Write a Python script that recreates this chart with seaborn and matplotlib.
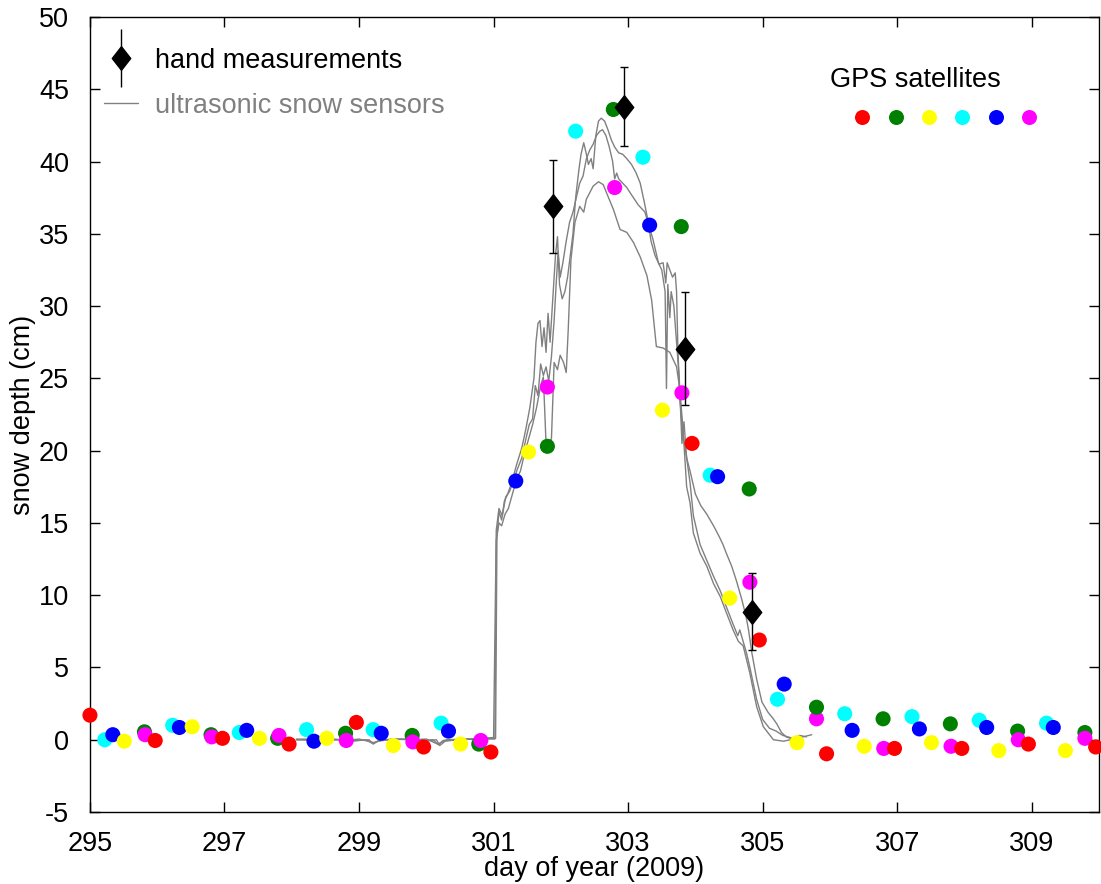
import numpy as np
import pandas as pd
import matplotlib
matplotlib.use("Agg")
import matplotlib.pyplot as plt
import seaborn as sns
from matplotlib.lines import Line2D
from matplotlib.collections import LineCollection
from matplotlib.container import ErrorbarContainer
from matplotlib.legend_handler import HandlerErrorbar
from matplotlib.path import Path

# ---------------- data ----------------
# GPS satellite retrievals (day of year, snow depth cm)
red_day = [295.0, 295.97, 296.97, 297.96, 298.96, 299.96, 300.96, 303.95, 304.95, 305.95, 306.96, 307.96, 308.95, 309.95]
red_val = [1.7, -0.05, 0.1, -0.3, 1.2, -0.5, -0.85, 20.5, 6.9, -0.97, -0.6, -0.6, -0.3, -0.5]
green_day = [295.81, 296.80, 297.79, 298.80, 299.79, 300.78, 301.80, 302.78, 303.79, 304.80, 305.80, 306.79, 307.79, 308.79, 309.79]
green_val = [0.55, 0.35, 0.1, 0.45, 0.3, -0.3, 20.3, 43.6, 35.5, 17.35, 2.25, 1.45, 1.1, 0.6, 0.5]
yellow_day = [295.51, 296.52, 297.52, 298.52, 299.51, 300.51, 301.52, 303.51, 304.51, 305.51, 306.51, 307.51, 308.51, 309.50]
yellow_val = [-0.1, 0.9, 0.1, 0.1, -0.4, -0.3, 19.9, 22.8, 9.8, -0.2, -0.45, -0.2, -0.75, -0.75]
cyan_day = [295.22, 296.23, 297.22, 298.22, 299.21, 300.22, 302.22, 303.22, 304.22, 305.22, 306.22, 307.22, 308.22, 309.22]
cyan_val = [0.0, 1.0, 0.5, 0.7, 0.7, 1.15, 42.1, 40.3, 18.3, 2.8, 1.8, 1.6, 1.35, 1.15]
blue_day = [295.34, 296.33, 297.33, 298.33, 299.33, 300.33, 301.33, 303.32, 304.33, 305.32, 306.33, 307.33, 308.33, 309.32]
blue_val = [0.35, 0.85, 0.65, -0.1, 0.45, 0.6, 17.9, 35.6, 18.2, 3.85, 0.65, 0.75, 0.85, 0.85]
magenta_day = [295.82, 296.81, 297.81, 298.81, 299.80, 300.81, 301.80, 302.80, 303.80, 304.81, 305.80, 306.80, 307.80, 308.80, 309.79]
magenta_val = [0.35, 0.2, 0.3, -0.05, -0.15, -0.05, 24.4, 38.2, 24.0, 10.9, 1.45, -0.6, -0.45, 0.0, 0.1]

sat_names = ["red", "green", "yellow", "cyan", "blue", "magenta"]
sat_colors = ["#ff0000", "#008000", "#ffff00", "#00ffff", "#0000ff", "#ff00ff"]

# hand measurements
hand_day = [301.88, 302.94, 303.85, 304.84]
hand_val = [36.9, 43.8, 27.05, 8.86]
hand_err = [3.2, 2.75, 3.9, 2.65]

# ultrasonic snow sensors (three sensors)
s1_day = [298.07, 298.3, 298.5, 298.7, 298.9, 299.1, 299.2, 299.3, 299.5, 299.7, 299.9, 300.1, 300.18, 300.25,
          300.5, 300.7, 300.9, 301.03, 301.05, 301.08, 301.12, 301.16, 301.21, 301.27, 301.34, 301.42, 301.48,
          301.54, 301.60, 301.63, 301.66, 301.69, 301.72, 301.75, 301.78, 301.81, 301.84, 301.88, 301.92, 301.95,
          301.98, 302.02, 302.06, 302.10, 302.14, 302.18, 302.22, 302.27, 302.30, 302.34, 302.38, 302.41, 302.45,
          302.48, 302.52, 302.56, 302.60, 302.65, 302.70, 302.75, 302.80, 302.86, 302.92, 302.98, 303.05, 303.12,
          303.18, 303.24, 303.30, 303.34, 303.40, 303.46, 303.52, 303.56, 303.58, 303.62, 303.66, 303.70, 303.72,
          303.74, 303.77, 303.82, 303.87, 303.92, 304.0, 304.08, 304.17, 304.27, 304.36, 304.41, 304.46, 304.54,
          304.61, 304.69, 304.75, 304.79, 304.84, 304.91, 304.99, 305.08, 305.15, 305.21, 305.28, 305.35, 305.41,
          305.5, 305.6, 305.73]
s1_val = [0.0, 0.05, -0.05, 0.0, -0.1, 0.0, -0.25, -0.05, 0.0, 0.05, -0.05, 0.0, -0.35, -0.05,
          0.0, 0.05, 0.1, 0.1, 14.0, 15.8, 15.2, 16.5, 17.0, 17.8, 19.0, 20.2, 21.5,
          23.0, 25.0, 27.5, 28.8, 29.0, 27.2, 28.5, 26.8, 29.5, 27.5, 30.5, 33.5, 34.8,
          31.5, 30.5, 31.0, 32.0, 33.5, 35.0, 37.5, 39.5, 40.5, 41.3, 40.5, 39.8, 40.2,
          39.5, 41.8, 42.8, 43.0, 42.8, 42.2, 41.5, 41.0, 40.6, 40.5, 40.2, 39.8, 39.2,
          38.5, 37.2, 35.8, 34.5, 33.5, 32.9, 33.0, 31.6, 33.0, 32.5, 32.0, 32.3, 31.0,
          27.0, 23.5, 21.0, 19.5, 18.6, 17.0, 16.2, 15.6, 14.8, 14.0, 13.5, 12.9, 12.0,
          11.0, 9.7, 8.6, 7.6, 6.0, 4.2, 2.6, 1.9, 1.5, 1.1, 0.5, 0.2, 0.1,
          0.15, 0.2, 0.35]

s2_day = [298.07, 298.4, 298.6, 298.8, 299.0, 299.22, 299.35, 299.6, 299.8, 300.0, 300.17, 300.3, 300.6, 300.8,
          301.0, 301.04, 301.08, 301.13, 301.18, 301.24, 301.30, 301.36, 301.42, 301.48, 301.53, 301.58, 301.62,
          301.66, 301.70, 301.74, 301.78, 301.82, 301.86, 301.90, 301.93, 301.96, 301.99, 302.03, 302.08, 302.13,
          302.18, 302.23, 302.28, 302.33, 302.38, 302.43, 302.48, 302.53, 302.58, 302.62, 302.67, 302.72, 302.77,
          302.80, 302.83, 302.86, 302.92, 302.98, 303.05, 303.15, 303.25, 303.37, 303.45, 303.50, 303.55, 303.57,
          303.59, 303.62, 303.64, 303.68, 303.72, 303.76, 303.80, 303.83, 303.87, 303.92, 303.97, 304.07, 304.17,
          304.27, 304.37, 304.46, 304.56, 304.63, 304.66, 304.71, 304.76, 304.81, 304.91, 305.0, 305.1, 305.2,
          305.3, 305.45, 305.55, 305.65]
s2_val = [0.05, 0.0, 0.05, -0.05, 0.05, -0.2, 0.0, 0.05, 0.0, 0.05, -0.3, 0.0, 0.05, 0.1,
          0.15, 14.5, 16.0, 15.5, 16.8, 17.2, 18.0, 18.8, 19.5, 20.8, 21.8, 22.2, 24.5,
          23.8, 26.0, 25.2, 25.8, 24.8, 26.5, 29.0, 31.5, 33.8, 32.0, 33.0, 34.5, 35.8,
          36.5, 37.5, 38.5, 39.0, 40.2, 40.8, 41.2, 41.8, 42.1, 42.2, 41.8, 41.0, 40.0,
          38.8, 39.2, 38.8, 38.5, 38.2, 37.7, 37.0, 36.5, 34.6, 33.0, 32.5, 31.0, 24.3,
          31.5, 29.2, 31.0, 30.0, 27.5, 25.0, 20.5, 22.0, 19.5, 17.8, 15.5, 13.5, 12.4,
          11.3, 10.3, 9.2, 8.0, 7.2, 7.6, 6.8, 6.0, 5.0, 2.8, 1.4, 0.8, 0.6,
          0.3, 0.1, 0.3, 0.2]

s3_day = [298.07, 298.35, 298.55, 298.75, 298.95, 299.15, 299.21, 299.28, 299.5, 299.75, 299.95, 300.15, 300.2,
          300.28, 300.55, 300.75, 300.95, 301.02, 301.04, 301.08, 301.12, 301.17, 301.22, 301.28, 301.34, 301.40,
          301.46, 301.52, 301.58, 301.64, 301.70, 301.74, 301.78, 301.86, 301.90, 301.95, 301.99, 302.04, 302.08,
          302.11, 302.15, 302.21, 302.28, 302.34, 302.38, 302.48, 302.56, 302.63, 302.70, 302.78, 302.88, 302.98,
          303.08, 303.18, 303.28, 303.35, 303.40, 303.42, 303.52, 303.62, 303.72, 303.77, 303.82, 303.87, 303.92,
          303.97, 304.07, 304.17, 304.27, 304.37, 304.46, 304.56, 304.64, 304.71, 304.81, 304.91, 305.01, 305.16,
          305.31, 305.51, 305.6]
s3_val = [0.0, -0.05, 0.05, 0.0, -0.05, 0.0, -0.3, -0.1, 0.05, 0.0, -0.1, 0.0, -0.4, -0.1,
          0.05, 0.0, 0.05, 0.05, 13.8, 15.0, 14.8, 15.6, 16.0, 17.0, 18.0, 18.6,
          19.8, 20.8, 21.8, 23.0, 24.5, 25.1, 20.5, 20.8, 26.1, 25.6, 26.6, 26.1, 25.4,
          28.4, 33.2, 35.8, 36.9, 36.5, 37.4, 38.3, 38.6, 38.4, 37.6, 36.7, 35.3, 35.1,
          34.4, 33.4, 32.1, 30.4, 28.1, 27.2, 27.1, 26.8, 25.8, 24.2, 21.2, 17.5, 16.4,
          14.3, 12.9, 12.0, 10.8, 9.9, 8.8, 7.6, 6.8, 6.5, 4.6, 2.3, 0.9, 0.0,
          -0.1, 0.1, 0.0]

x_ticks = [295, 297, 299, 301, 303, 305, 307, 309]
y_ticks = [-5, 0, 5, 10, 15, 20, 25, 30, 35, 40, 45, 50]

# ---------------- tables ----------------
gps_days = [red_day, green_day, yellow_day, cyan_day, blue_day, magenta_day]
gps_vals = [red_val, green_val, yellow_val, cyan_val, blue_val, magenta_val]
gps = pd.concat([pd.DataFrame({"day": d, "depth": v, "sat": n})
                 for d, v, n in zip(gps_days, gps_vals, sat_names)], ignore_index=True)
gps = gps.sort_values("day").reset_index(drop=True)

sensors = pd.concat([
    pd.DataFrame({"day": s1_day, "depth": s1_val, "sensor": "s1"}),
    pd.DataFrame({"day": s2_day, "depth": s2_val, "sensor": "s2"}),
    pd.DataFrame({"day": s3_day, "depth": s3_val, "sensor": "s3"}),
], ignore_index=True)

# ---------------- style ----------------
sns.set_style("ticks", {"xtick.direction": "in", "ytick.direction": "in"})
plt.rcParams["font.family"] = ["Liberation Sans", "DejaVu Sans"]
plt.rcParams["axes.unicode_minus"] = False
for k in ["text.color", "axes.labelcolor", "xtick.color", "ytick.color",
          "xtick.labelcolor", "ytick.labelcolor", "axes.edgecolor"]:
    plt.rcParams[k] = "black"
FS = 19.5

fig = plt.figure(figsize=(11.01, 8.84), dpi=100)
ax = fig.add_axes([0.0817, 0.0814, 0.9165, 0.8994])

sns.lineplot(data=sensors, x="day", y="depth", units="sensor", estimator=None,
             color="#808080", lw=1.0, ax=ax, legend=False, zorder=2)

sns.scatterplot(data=gps, x="day", y="depth", hue="sat", hue_order=sat_names,
                palette=dict(zip(sat_names, sat_colors)), s=118, edgecolor="none",
                linewidth=0, legend=False, ax=ax, zorder=3, clip_on=False)

diamond = Path([(0, 1), (0.78, 0), (0, -1), (-0.78, 0), (0, 1)],
               [Path.MOVETO, Path.LINETO, Path.LINETO, Path.LINETO, Path.CLOSEPOLY])
ax.errorbar(hand_day, hand_val, yerr=hand_err, fmt="none", ecolor="black",
            elinewidth=1.0, capsize=3, capthick=1.0, zorder=4)
ax.plot(hand_day, hand_val, linestyle="none", marker=diamond, markersize=17,
        color="black", zorder=5)

ax.set_xlim(295, 310)
ax.set_ylim(-5, 50)
ax.set_xticks(x_ticks)
ax.set_yticks(y_ticks)
ax.tick_params(axis="both", which="both", direction="in", top=True, right=True,
               length=7, width=1.0, labelsize=FS, colors="black")
ax.tick_params(axis="x", pad=14)
ax.tick_params(axis="y", pad=15)
for sp in ax.spines.values():
    sp.set_visible(True)
    sp.set_linewidth(1.0)
    sp.set_color("black")
ax.set_xlabel("day of year (2009)", fontsize=FS, labelpad=-1)
ax.set_ylabel("snow depth (cm)", fontsize=FS, labelpad=2)

# legend 1: hand measurements + sensors
proxy_marker = Line2D([], [], linestyle="none", marker=diamond, markersize=17, color="black")
proxy_bars = LineCollection([], colors="black", linewidths=1.0)
hand_proxy = ErrorbarContainer((proxy_marker, (), (proxy_bars,)), has_xerr=False, has_yerr=True)
sensor_proxy = Line2D([], [], color="#808080", lw=1.0)
leg1 = ax.legend([hand_proxy, sensor_proxy], ["hand measurements", "ultrasonic snow sensors"],
                 handler_map={ErrorbarContainer: HandlerErrorbar(yerr_size=1.07)},
                 loc="upper left", bbox_to_anchor=(-0.005, 0.985), frameon=False, fontsize=FS,
                 handlelength=1.25, handletextpad=0.65, labelspacing=0.7, borderaxespad=0.3)
leg1.get_texts()[0].set_color("black")
leg1.get_texts()[1].set_color("#808080")
ax.add_artist(leg1)

# legend 2: GPS satellites
sat_handles = [Line2D([], [], linestyle="none", marker="o", markersize=10.8,
                      markerfacecolor=c, markeredgecolor="none") for c in sat_colors]
leg2 = ax.legend(sat_handles, [""] * 6, ncol=6, loc="upper left",
                 bbox_to_anchor=(0.744, 0.9016), frameon=False, fontsize=FS,
                 handlelength=0.8, handletextpad=0.0, columnspacing=0.43, borderaxespad=0.0)
ax.text(0.733, 0.921, "GPS satellites", transform=ax.transAxes, fontsize=FS,
        ha="left", va="center", color="black")

fig.savefig("out.png", dpi=100)
